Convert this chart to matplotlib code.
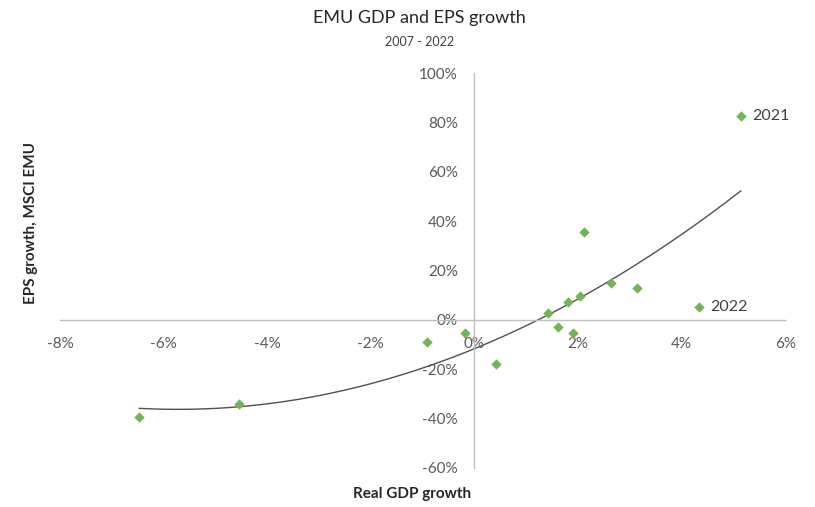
import matplotlib.pyplot as plt
import numpy as np
from matplotlib.ticker import PercentFormatter

plt.rcParams['font.family'] = ['Lato', 'DejaVu Sans']
plt.rcParams['axes.unicode_minus'] = False

# real GDP growth (%) vs EPS growth (%), 2007-2022
gdp = [-6.47, -4.54, -0.91, -0.19, 0.41, 1.41, 1.62, 1.81, 1.91, 2.03, 2.12, 2.64, 3.13, 4.34, 5.14]
eps = [-39.3, -34.0, -8.9, -5.3, -17.8, 2.8, -2.8, 7.3, -5.3, 9.7, 35.6, 15.0, 13.0, 5.3, 82.6]
labels = {13: '2022', 14: '2021'}

fig = plt.figure(figsize=(8.15, 5.07), dpi=100)
ax = fig.add_axes([0.0736, 0.077, 0.89, 0.779])

ax.scatter(gdp, eps, marker='D', s=28, color='#74B456', zorder=3, linewidths=0)

# 2nd order trend line fitted to the points
coef = np.polyfit(gdp, eps, 2)
xs = np.linspace(min(gdp), max(gdp), 200)
ax.plot(xs, np.polyval(coef, xs), color='#505050', lw=1.0, zorder=2)

for i, t in labels.items():
    ax.annotate(t, (gdp[i], eps[i]), xytext=(8, 0), textcoords='offset points',
                va='center', ha='left', fontsize=11.5, color='#404040')

ax.set_xlim(-8, 6)
ax.set_ylim(-60, 100)
ax.set_xticks(np.arange(-8, 7, 2))
ax.set_yticks(np.arange(-60, 101, 20))
ax.xaxis.set_major_formatter(PercentFormatter(decimals=0))
ax.yaxis.set_major_formatter(PercentFormatter(decimals=0))

for s in ['top', 'right']:
    ax.spines[s].set_visible(False)
ax.spines['left'].set_position(('data', 0))
ax.spines['bottom'].set_position(('data', 0))
for s in ['left', 'bottom']:
    ax.spines[s].set_color('#BFBFBF')
    ax.spines[s].set_linewidth(1.0)
ax.tick_params(length=0, labelsize=11, labelcolor='#595959')
ax.tick_params(axis='x', pad=12)
ax.tick_params(axis='y', pad=12)

fig.text(0.038, 0.56, 'EPS growth, MSCI EMU', rotation=90, ha='center', va='center',
         fontsize=11, fontweight='bold', color='#262626')
fig.text(0.505, 0.025, 'Real GDP growth', ha='center', va='center',
         fontsize=11, fontweight='bold', color='#262626')
fig.text(0.515, 0.965, 'EMU GDP and EPS growth', ha='center', va='center',
         fontsize=13, color='#262626')
fig.text(0.515, 0.918, '2007 - 2022', ha='center', va='center',
         fontsize=9, color='#404040')

fig.savefig('out.png', dpi=100)
